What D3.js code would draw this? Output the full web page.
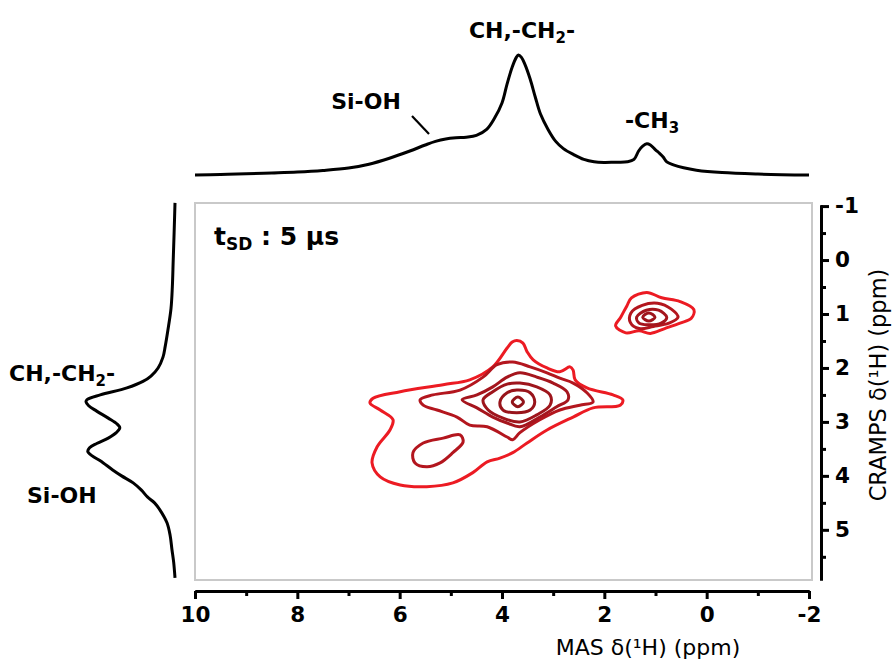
<!DOCTYPE html>
<html>
<head>
<meta charset="utf-8">
<script src="https://cdn.jsdelivr.net/npm/d3@7/dist/d3.min.js"></script>
<style>
  html, body { margin: 0; padding: 0; background: #fff; }
  svg { display: block; }
</style>
</head>
<body>
<svg id="chart" width="892" height="663"></svg>
<script>
// ---------------- DATA ----------------
// Top projection (MAS dimension): [ppm, relative intensity]
const topSpectrum = [
  [10.0, 0.0], [9.5, 0.004], [9.0, 0.01], [8.5, 0.017], [8.0, 0.025], [7.5, 0.038],
  [7.0, 0.058], [6.6, 0.09], [6.2, 0.14], [5.8, 0.2], [5.5, 0.25], [5.3, 0.28],
  [5.1, 0.3], [4.9, 0.31], [4.7, 0.315], [4.5, 0.33], [4.3, 0.38], [4.15, 0.47],
  [4.0, 0.6], [3.9, 0.76], [3.8, 0.9], [3.72, 0.98], [3.68, 1.0], [3.62, 0.98],
  [3.55, 0.92], [3.45, 0.8], [3.35, 0.65], [3.25, 0.51], [3.1, 0.38], [2.95, 0.28],
  [2.8, 0.22], [2.6, 0.17], [2.4, 0.13], [2.2, 0.11], [2.0, 0.105], [1.8, 0.107],
  [1.55, 0.11], [1.42, 0.13], [1.33, 0.2], [1.25, 0.24], [1.17, 0.26], [1.1, 0.25],
  [1.0, 0.21], [0.92, 0.18], [0.85, 0.15], [0.78, 0.11], [0.65, 0.085], [0.45, 0.06],
  [0.2, 0.04], [-0.3, 0.02], [-1.0, 0.008], [-2.0, 0.0]
];
// Left projection (CRAMPS dimension): [ppm, relative intensity]
const leftSpectrum = [
  [-1.06, 0.0], [-0.5, 0.01], [0.0, 0.02], [0.5, 0.03], [0.9, 0.045], [1.3, 0.08],
  [1.6, 0.11], [1.8, 0.135], [2.0, 0.19], [2.15, 0.27], [2.25, 0.36], [2.37, 0.54],
  [2.5, 0.84], [2.59, 0.99], [2.63, 1.0], [2.7, 0.97], [2.8, 0.88], [2.93, 0.75],
  [3.04, 0.65], [3.11, 0.62], [3.2, 0.66], [3.3, 0.75], [3.4, 0.88], [3.48, 0.96],
  [3.55, 0.98], [3.63, 0.93], [3.72, 0.84], [3.89, 0.70], [4.0, 0.6], [4.13, 0.47],
  [4.26, 0.38], [4.39, 0.31], [4.5, 0.23], [4.63, 0.17], [4.87, 0.09], [5.1, 0.055],
  [5.37, 0.034], [5.6, 0.015], [5.89, 0.0]
];

// Contour lines: [MAS ppm, CRAMPS ppm]
const mainLevel1 = [
  [3.71, 1.49], [3.59, 1.54], [3.51, 1.70], [3.39, 1.85], [3.12, 2.00], [2.87, 2.07],
  [2.67, 1.98], [2.61, 2.04], [2.57, 2.22], [2.34, 2.37], [1.83, 2.50], [1.64, 2.59],
  [1.69, 2.69], [2.22, 2.74], [2.61, 2.91], [3.12, 3.15], [3.51, 3.39], [3.79, 3.57],
  [4.04, 3.67], [4.29, 3.74], [4.57, 3.94], [4.96, 4.13], [5.47, 4.20], [5.99, 4.17],
  [6.38, 4.02], [6.54, 3.76], [6.44, 3.46], [6.19, 3.15], [6.13, 2.96], [6.38, 2.78],
  [6.58, 2.65], [6.52, 2.56], [5.99, 2.44], [5.15, 2.31], [4.63, 2.22], [4.18, 1.98],
  [3.90, 1.63], [3.80, 1.52]
];
const mainLevel2 = [
  [5.60, 2.59], [5.35, 2.50], [4.82, 2.41], [4.37, 2.17], [4.10, 1.94], [3.79, 1.89],
  [3.45, 1.98], [3.12, 2.09], [2.87, 2.19], [2.61, 2.28], [2.34, 2.46], [2.22, 2.63],
  [2.48, 2.69], [2.87, 2.78], [3.26, 2.96], [3.65, 3.20], [3.79, 3.33], [3.90, 3.28],
  [4.29, 3.09], [4.63, 3.06], [4.88, 2.91], [5.27, 2.78], [5.54, 2.69]
];
const mainLevel3 = [
  [4.78, 2.59], [4.49, 2.50], [4.18, 2.35], [3.90, 2.17], [3.65, 2.09], [3.32, 2.17],
  [3.00, 2.28], [2.73, 2.44], [2.71, 2.59], [2.93, 2.72], [3.26, 2.91], [3.65, 3.09],
  [3.90, 3.02], [4.18, 2.91], [4.49, 2.74]
];
const mainLevel4 = [
  [4.37, 2.59], [4.18, 2.44], [3.90, 2.30], [3.65, 2.28], [3.32, 2.35], [3.06, 2.50],
  [3.06, 2.69], [3.32, 2.87], [3.65, 3.00], [3.98, 2.93], [4.27, 2.78]
];
const mainLevel5 = [
  [4.04, 2.63], [3.90, 2.46], [3.71, 2.41], [3.45, 2.46], [3.36, 2.63], [3.45, 2.78],
  [3.71, 2.83], [3.98, 2.78]
];
const mainLevel6 = [[3.80, 2.63], [3.69, 2.54], [3.58, 2.63], [3.69, 2.72]];
const siohLevel2 = [
  [5.74, 3.57], [5.54, 3.39], [5.15, 3.30], [4.82, 3.24], [4.76, 3.37], [4.96, 3.57],
  [5.21, 3.76], [5.47, 3.83], [5.70, 3.76]
];
const methylLevel1 = [
  [1.47, 0.70], [1.17, 0.60], [0.88, 0.70], [0.52, 0.77], [0.25, 0.92], [0.30, 1.08],
  [0.52, 1.17], [0.82, 1.27], [1.10, 1.36], [1.32, 1.31], [1.58, 1.35], [1.78, 1.22],
  [1.68, 1.06], [1.56, 0.85]
];
const methylLevel2 = [
  [1.48, 0.98], [1.26, 0.84], [0.96, 0.80], [0.69, 0.91], [0.56, 1.06], [0.74, 1.17],
  [1.04, 1.23], [1.32, 1.27], [1.49, 1.16]
];
const methylLevel3 = [
  [1.37, 1.06], [1.18, 0.93], [0.94, 0.93], [0.78, 1.06], [0.89, 1.17], [1.15, 1.20],
  [1.32, 1.17]
];
const methylLevel4 = [[1.25, 1.06], [1.13, 0.98], [1.01, 1.06], [1.13, 1.13]];

const contours = [
  { pts: mainLevel1, level: 1 }, { pts: mainLevel2, level: 2 }, { pts: mainLevel3, level: 3 },
  { pts: mainLevel4, level: 4 }, { pts: mainLevel5, level: 5 }, { pts: mainLevel6, level: 6 },
  { pts: siohLevel2, level: 2 },
  { pts: methylLevel1, level: 1 }, { pts: methylLevel2, level: 2 },
  { pts: methylLevel3, level: 3 }, { pts: methylLevel4, level: 4 }
];
const levelColors = ["#ec1b23", "#b3161e", "#a5151d", "#9e151c", "#98141b", "#92141a"];

const xTicks = [10, 8, 6, 4, 2, 0, -2];
const xMinorTicks = [9, 7, 5, 3, 1, -1];
const yTicks = [-1, 0, 1, 2, 3, 4, 5];
const yMinorTicks = [-0.5, 0.5, 1.5, 2.5, 3.5, 4.5, 5.5];

// ---------------- DRAWING ----------------
const svg = d3.select("#chart");
const labelFont = "'DejaVu Sans', sans-serif";
const axisFont = "'DejaVu Sans', Verdana, sans-serif";

const x = d3.scaleLinear().domain([10, -2]).range([195, 809]);
const y = d3.scaleLinear().domain([-1.02, 5.93]).range([205, 580]);
const topI = d3.scaleLinear().domain([0, 1]).range([175, 55]);
const leftI = d3.scaleLinear().domain([0, 1]).range([175, 86]);

svg.append("rect").attr("width", 892).attr("height", 663).attr("fill", "#fff");

// frame
svg.append("rect")
  .attr("x", 195).attr("y", 203).attr("width", 617).attr("height", 377)
  .attr("fill", "none").attr("stroke", "#c9c9c9").attr("stroke-width", 2);

// contours
const cline = d3.line().x(d => x(d[0])).y(d => y(d[1])).curve(d3.curveCatmullRomClosed.alpha(0.5));
svg.append("g").selectAll("path").data(contours).join("path")
  .attr("d", d => cline(d.pts))
  .attr("fill", "none")
  .attr("stroke", d => levelColors[d.level - 1])
  .attr("stroke-width", 3);

// top projection
const tline = d3.line().x(d => x(d[0])).y(d => topI(d[1])).curve(d3.curveCatmullRom.alpha(0.5));
svg.append("path").attr("d", tline(topSpectrum))
  .attr("fill", "none").attr("stroke", "#000").attr("stroke-width", 3).attr("stroke-linejoin", "round");

// left projection
const lline = d3.line().x(d => leftI(d[1])).y(d => y(d[0])).curve(d3.curveCatmullRom.alpha(0.5));
svg.append("path").attr("d", lline(leftSpectrum))
  .attr("fill", "none").attr("stroke", "#000").attr("stroke-width", 3).attr("stroke-linejoin", "round");

// axes
function styleAxis(g) {
  g.select(".domain").attr("stroke", "#000").attr("stroke-width", 3);
  g.selectAll(".tick line").attr("stroke", "#000").attr("stroke-width", 3);
}
const gxMinor = svg.append("g").attr("transform", "translate(0,591)")
  .call(d3.axisBottom(x).tickValues(xMinorTicks).tickSize(5).tickSizeOuter(0).tickFormat(""));
styleAxis(gxMinor);
const gx = svg.append("g").attr("transform", "translate(0,591)")
  .call(d3.axisBottom(x).tickValues(xTicks).tickSize(8).tickSizeOuter(0).tickPadding(8).tickFormat(d => String(d)));
styleAxis(gx);
gx.selectAll("text").attr("font-family", axisFont).attr("font-weight", "bold").attr("font-size", 21.5).attr("fill", "#000");

const gyMinor = svg.append("g").attr("transform", "translate(821,0)")
  .call(d3.axisRight(y).tickValues(yMinorTicks).tickSize(5).tickSizeOuter(0).tickFormat(""));
styleAxis(gyMinor);
const gy = svg.append("g").attr("transform", "translate(821,0)")
  .call(d3.axisRight(y).tickValues(yTicks).tickSize(8).tickSizeOuter(0).tickPadding(6).tickFormat(d => String(d)));
styleAxis(gy);
gy.selectAll("text").attr("font-family", axisFont).attr("font-weight", "bold").attr("font-size", 21.5).attr("fill", "#000");

// axis titles
svg.append("text").attr("x", 648).attr("y", 655).attr("text-anchor", "middle")
  .attr("font-family", axisFont).attr("font-size", 22).attr("fill", "#000")
  .text("MAS δ(¹H) (ppm)");
svg.append("text").attr("transform", "translate(886,385) rotate(-90)").attr("text-anchor", "middle")
  .attr("font-family", axisFont).attr("font-size", 22.5).attr("fill", "#000")
  .text("CRAMPS δ(¹H) (ppm)");

// annotations
function chLabel(xp, yp, anchor) {
  const t = svg.append("text").attr("x", xp).attr("y", yp).attr("text-anchor", anchor)
    .attr("font-family", labelFont).attr("font-weight", "bold").attr("font-size", 22).attr("fill", "#000");
  t.append("tspan").text("CH,-CH");
  t.append("tspan").attr("dy", 5).attr("font-size", 15).text("2");
  t.append("tspan").attr("dy", -5).text("-");
  return t;
}
function plainLabel(xp, yp, anchor, txt) {
  return svg.append("text").attr("x", xp).attr("y", yp).attr("text-anchor", anchor)
    .attr("font-family", labelFont).attr("font-weight", "bold").attr("font-size", 22).attr("fill", "#000")
    .text(txt);
}
chLabel(522, 38, "middle");
plainLabel(366, 109, "middle", "Si-OH");
const ch3 = svg.append("text").attr("x", 652).attr("y", 128).attr("text-anchor", "middle")
  .attr("font-family", labelFont).attr("font-weight", "bold").attr("font-size", 22).attr("fill", "#000");
ch3.append("tspan").text("-CH");
ch3.append("tspan").attr("dy", 5).attr("font-size", 15).text("3");
svg.append("line").attr("x1", 412).attr("y1", 116).attr("x2", 429).attr("y2", 134)
  .attr("stroke", "#000").attr("stroke-width", 2.2);
chLabel(9, 381, "start");
plainLabel(27, 503, "start", "Si-OH");

const tsd = svg.append("text").attr("x", 214).attr("y", 245)
  .attr("font-family", labelFont).attr("font-weight", "bold").attr("font-size", 25).attr("fill", "#000");
tsd.append("tspan").text("t");
tsd.append("tspan").attr("dy", 5).attr("font-size", 17).text("SD");
tsd.append("tspan").attr("dy", -5).text(" : 5 µs");
</script>
</body>
</html>
